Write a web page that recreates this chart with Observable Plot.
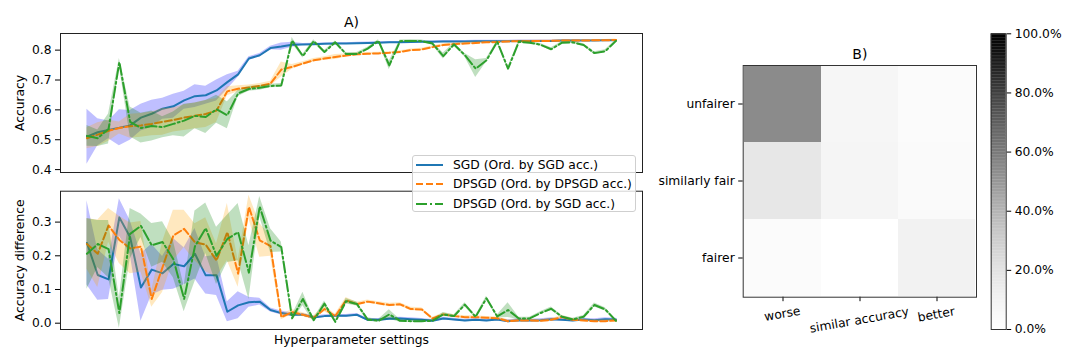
<!DOCTYPE html>
<html><head><meta charset="utf-8">
<script src="https://cdn.jsdelivr.net/npm/d3@7"></script>
<script src="https://cdn.jsdelivr.net/npm/@observablehq/plot@0.6"></script>
<style>
body{margin:0;background:#fff;width:1080px;height:360px;position:relative;overflow:hidden;font-family:"DejaVu Sans",sans-serif;}
.panel{position:absolute;}
#legend{position:absolute;left:412px;top:155px;width:224px;height:57px;background:rgba(255,255,255,0.8);border:1px solid #cfcfcf;border-radius:3px;font:12.3px "DejaVu Sans";color:#000;box-sizing:border-box;}
#legend .row{position:absolute;left:0;height:20px;display:flex;align-items:center;white-space:nowrap;}
#legend svg{margin-left:3px;margin-right:10px;}
</style></head><body>
<div id="topPanel" class="panel" style="left:0;top:0"></div>
<div id="bottomPanel" class="panel" style="left:0;top:180px"></div>
<div id="heatPanel" class="panel" style="left:640px;top:0"></div>
<div id="cbarPanel" class="panel" style="left:960px;top:0"></div>
<div id="legend"></div>
<script>
// ---------- Data ----------
const seriesNames = ["SGD (Ord. by SGD acc.)", "DPSGD (Ord. by DPSGD acc.)", "DPSGD (Ord. by SGD acc.)"];
const lineColors = ["#1f77b4", "#ff7f0e", "#2ca02c"];
const bandColors = ["blue", "orange", "green"];
const dashes = [null, "7,3", "11,3,2,3"];

const accTicks = [0.4, 0.5, 0.6, 0.7, 0.8];
const diffTicks = [0.0, 0.1, 0.2, 0.3];

// Accuracy (top panel)
const sgdAcc = [0.510,0.525,0.533,0.540,0.548,0.574,0.587,0.604,0.612,0.632,0.646,0.649,0.665,0.693,0.719,0.772,0.783,0.807,0.812,0.818,0.819,0.820,0.821,0.822,0.822,0.823,0.824,0.825,0.826,0.826,0.827,0.828,0.828,0.829,0.829,0.829,0.830,0.830,0.830,0.830,0.831,0.831,0.831,0.831,0.832,0.832,0.832,0.832,0.833,0.833];
const sgdAccSd = [0.092,0.045,0.030,0.060,0.050,0.045,0.045,0.035,0.040,0.030,0.038,0.030,0.035,0.025,0.010,0.006,0.006,0.006,0.012,0.008,0.003,0.003,0.003,0.003,0.003,0.003,0.003,0.003,0.003,0.003,0.003,0.003,0.003,0.003,0.003,0.003,0.003,0.003,0.003,0.003,0.003,0.003,0.003,0.003,0.003,0.003,0.003,0.003,0.003,0.003];
const dpAcc = [0.505,0.517,0.530,0.539,0.545,0.548,0.553,0.560,0.566,0.574,0.580,0.586,0.598,0.662,0.671,0.675,0.680,0.688,0.735,0.744,0.755,0.766,0.772,0.777,0.782,0.786,0.788,0.789,0.791,0.794,0.800,0.802,0.810,0.817,0.820,0.822,0.824,0.826,0.827,0.829,0.830,0.830,0.831,0.831,0.832,0.832,0.832,0.833,0.833,0.834];
const dpAccSd = [0.035,0.040,0.035,0.020,0.040,0.040,0.040,0.045,0.040,0.043,0.043,0.045,0.040,0.015,0.010,0.008,0.008,0.008,0.025,0.008,0.006,0.006,0.006,0.008,0.005,0.005,0.004,0.004,0.004,0.004,0.004,0.004,0.004,0.004,0.004,0.004,0.004,0.003,0.003,0.003,0.003,0.003,0.003,0.003,0.003,0.003,0.003,0.003,0.003,0.003];
const dpSgdAcc = [0.513,0.505,0.536,0.760,0.560,0.539,0.546,0.542,0.553,0.564,0.580,0.576,0.602,0.582,0.655,0.670,0.674,0.680,0.682,0.832,0.780,0.830,0.794,0.826,0.787,0.787,0.805,0.831,0.749,0.830,0.831,0.830,0.822,0.780,0.819,0.783,0.738,0.766,0.828,0.738,0.828,0.825,0.818,0.803,0.825,0.826,0.817,0.790,0.796,0.831];
const dpSgdAccSd = [0.035,0.028,0.050,0.012,0.050,0.050,0.050,0.035,0.040,0.055,0.043,0.055,0.047,0.045,0.010,0.008,0.008,0.006,0.006,0.010,0.006,0.005,0.005,0.005,0.005,0.005,0.005,0.004,0.015,0.004,0.004,0.004,0.005,0.010,0.005,0.006,0.030,0.006,0.004,0.006,0.004,0.004,0.004,0.005,0.004,0.004,0.004,0.005,0.005,0.004];

// Accuracy difference (bottom panel)
const sgdDiff = [0.238,0.143,0.130,0.314,0.255,0.106,0.159,0.148,0.176,0.169,0.206,0.142,0.142,0.034,0.053,0.062,0.064,0.039,0.030,0.025,0.025,0.017,0.021,0.022,0.022,0.025,0.010,0.010,0.013,0.014,0.012,0.010,0.007,0.014,0.011,0.008,0.010,0.008,0.011,0.006,0.009,0.008,0.009,0.012,0.010,0.008,0.011,0.009,0.012,0.011];
const sgdDiffSd = [0.125,0.075,0.060,0.055,0.050,0.100,0.075,0.050,0.075,0.055,0.075,0.055,0.060,0.030,0.040,0.015,0.010,0.006,0.006,0.005,0.004,0.004,0.004,0.004,0.004,0.004,0.004,0.004,0.004,0.004,0.004,0.004,0.004,0.004,0.004,0.004,0.004,0.004,0.004,0.004,0.004,0.004,0.004,0.004,0.004,0.004,0.004,0.004,0.004,0.004];
const dpDiff = [0.235,0.206,0.290,0.247,0.222,0.227,0.072,0.166,0.260,0.280,0.240,0.233,0.186,0.270,0.147,0.345,0.246,0.229,0.018,0.033,0.025,0.016,0.042,0.021,0.068,0.057,0.064,0.059,0.054,0.056,0.042,0.041,0.014,0.026,0.021,0.018,0.018,0.016,0.015,0.006,0.008,0.008,0.007,0.010,0.018,0.010,0.008,0.006,0.006,0.008];
const dpDiffSd = [0.075,0.100,0.050,0.070,0.075,0.075,0.025,0.075,0.075,0.055,0.055,0.080,0.050,0.085,0.040,0.035,0.050,0.030,0.008,0.008,0.006,0.006,0.008,0.006,0.008,0.005,0.005,0.005,0.005,0.005,0.005,0.005,0.004,0.004,0.004,0.004,0.004,0.004,0.004,0.004,0.004,0.004,0.004,0.004,0.004,0.004,0.004,0.004,0.004,0.004];
const dpSgdDiff = [0.206,0.235,0.220,0.030,0.265,0.289,0.231,0.241,0.190,0.072,0.228,0.282,0.200,0.250,0.270,0.150,0.346,0.245,0.226,0.015,0.072,0.009,0.058,0.004,0.065,0.057,0.011,0.007,0.026,0.007,0.006,0.006,0.007,0.026,0.021,0.055,0.019,0.074,0.020,0.039,0.014,0.014,0.030,0.043,0.019,0.011,0.019,0.054,0.041,0.007];
const dpSgdDiffSd = [0.105,0.070,0.085,0.045,0.075,0.035,0.065,0.060,0.055,0.038,0.105,0.075,0.085,0.070,0.085,0.080,0.030,0.035,0.015,0.008,0.020,0.006,0.008,0.004,0.008,0.006,0.005,0.004,0.014,0.004,0.004,0.004,0.004,0.006,0.004,0.006,0.004,0.006,0.004,0.022,0.004,0.004,0.004,0.005,0.004,0.004,0.004,0.006,0.005,0.004];

// Heatmap (panel B)
const heatRows = ["unfairer", "similarly fair", "fairer"];
const heatCols = ["worse", "similar accuracy", "better"];
const heatUnfairer = [0.54, 0.07, 0.03];
const heatSimilarlyFair = [0.17, 0.08, 0.04];
const heatFairer = [0.03, 0.00, 0.10];
const cbarTicks = [0, 0.2, 0.4, 0.6, 0.8, 1.0];

// ---------- Drawing ----------
const FONT = {fontFamily: "DejaVu Sans", fontSize: "12.3px", color: "#000", background: "none", overflow: "visible"};
const idx = d3.range(sgdAcc.length);

function seriesMarks(means, sds) {
  const marks = [];
  means.forEach((m, s) => {
    const sd = sds[s];
    marks.push(Plot.areaY(idx, {x: i => i, y1: i => m[i] - sd[i], y2: i => m[i] + sd[i], fill: bandColors[s], fillOpacity: 0.25, clip: true}));
    marks.push(Plot.lineY(idx, {x: i => i, y: i => m[i], stroke: lineColors[s], strokeWidth: 2, strokeDasharray: dashes[s], clip: true}));
  });
  return marks;
}

const xDomain = [-2.45, idx.length - 1 + 2.45];

const topChart = Plot.plot({
  width: 660, height: 180,
  marginLeft: 60, marginRight: 18, marginTop: 33, marginBottom: 8,
  style: FONT,
  x: {domain: xDomain, axis: null},
  y: {domain: [0.3903, 0.8557], axis: null},
  marks: [
    ...seriesMarks([sgdAcc, dpAcc, dpSgdAcc], [sgdAccSd, dpAccSd, dpSgdAccSd]),
    Plot.axisY({ticks: accTicks, tickFormat: d3.format(".1f"), tickSize: 5, tickPadding: 4, label: null}),
    Plot.frame({stroke: "#222", strokeWidth: 1}),
    Plot.text(["A)"], {text: d => d, frameAnchor: "top", lineAnchor: "bottom", dy: -7, fontSize: 14}),
    Plot.text(["Accuracy"], {text: d => d, frameAnchor: "left", textAnchor: "middle", rotate: -90, dx: -40})
  ]
});
document.getElementById("topPanel").append(topChart);

const bottomChart = Plot.plot({
  width: 660, height: 180,
  marginLeft: 60, marginRight: 18, marginTop: 10.7, marginBottom: 31,
  style: FONT,
  x: {domain: xDomain, axis: null},
  y: {domain: [-0.0187, 0.3917], axis: null},
  marks: [
    ...seriesMarks([sgdDiff, dpDiff, dpSgdDiff], [sgdDiffSd, dpDiffSd, dpSgdDiffSd]),
    Plot.axisY({ticks: diffTicks, tickFormat: d3.format(".1f"), tickSize: 5, tickPadding: 4, label: null}),
    Plot.frame({stroke: "#222", strokeWidth: 1}),
    Plot.text(["Hyperparameter settings"], {text: d => d, frameAnchor: "bottom", lineAnchor: "bottom", dy: 14.5}),
    Plot.text(["Accuracy difference"], {text: d => d, frameAnchor: "left", textAnchor: "middle", rotate: -90, dx: -40})
  ]
});
document.getElementById("bottomPanel").append(bottomChart);

// Heatmap
const heatMatrix = [heatUnfairer, heatSimilarlyFair, heatFairer];
const heatData = heatRows.flatMap((r, ri) => heatCols.map((c, ci) => ({row: r, col: c, value: heatMatrix[ri][ci]})));
const heatChart = Plot.plot({
  width: 345, height: 340,
  marginLeft: 102.7, marginRight: 9, marginTop: 65, marginBottom: 43.3,
  style: FONT,
  x: {domain: heatCols, padding: 0, axis: null},
  y: {domain: heatRows, padding: 0, axis: null},
  color: {type: "linear", scheme: "greys", domain: [0, 1]},
  marks: [
    Plot.cell(heatData, {x: "col", y: "row", fill: "value", inset: 0}),
    Plot.axisY({tickSize: 4.5, tickPadding: 4, label: null}),
    Plot.axisX({tickSize: 4.5, tickFormat: () => "", label: null}),
    ...heatCols.map(c => Plot.text([c], {x: d => d, text: d => d, frameAnchor: "bottom", rotate: -10,
      dy: 11 + (c.length * 6.4 * Math.sin(Math.PI / 18) + 14 * Math.cos(Math.PI / 18)) / 2})),
    Plot.frame({stroke: "#333", strokeWidth: 1}),
    Plot.text(["B)"], {text: d => d, frameAnchor: "top", lineAnchor: "bottom", dy: -7, fontSize: 14})
  ]
});
document.getElementById("heatPanel").append(heatChart);

// Colorbar
const step = 0.005;
const steps = d3.range(0, 1, step);
const cbarChart = Plot.plot({
  width: 120, height: 360,
  marginLeft: 30.7, marginRight: 74.3, marginTop: 33.3, marginBottom: 31,
  style: FONT,
  x: {domain: [0, 1], axis: null},
  y: {domain: [0, 1], axis: null},
  color: {type: "linear", scheme: "greys", domain: [0, 1]},
  marks: [
    Plot.rect(steps, {x1: 0, x2: 1, y1: d => d, y2: d => Math.min(1, d + step * 1.2), fill: d => d + step / 2}),
    Plot.axisY({anchor: "right", ticks: cbarTicks, tickFormat: d3.format(".1%"), tickSize: 4.5, tickPadding: 4, label: null}),
    Plot.frame({stroke: "#333", strokeWidth: 1})
  ]
});
document.getElementById("cbarPanel").append(cbarChart);

// Legend
const legendBox = document.getElementById("legend");
seriesNames.forEach((name, s) => {
  const row = document.createElement("div");
  row.className = "row";
  row.style.top = (s * 19.4 - 1) + "px";
  const ns = "http://www.w3.org/2000/svg";
  const svg = document.createElementNS(ns, "svg");
  svg.setAttribute("width", 27); svg.setAttribute("height", 6);
  const ln = document.createElementNS(ns, "line");
  ln.setAttribute("x1", 0); ln.setAttribute("x2", 27); ln.setAttribute("y1", 3); ln.setAttribute("y2", 3);
  ln.setAttribute("stroke", lineColors[s]); ln.setAttribute("stroke-width", 2);
  if (dashes[s]) ln.setAttribute("stroke-dasharray", dashes[s]);
  svg.append(ln);
  row.append(svg);
  row.append(document.createTextNode(name));
  legendBox.append(row);
});
</script>
</body></html>
